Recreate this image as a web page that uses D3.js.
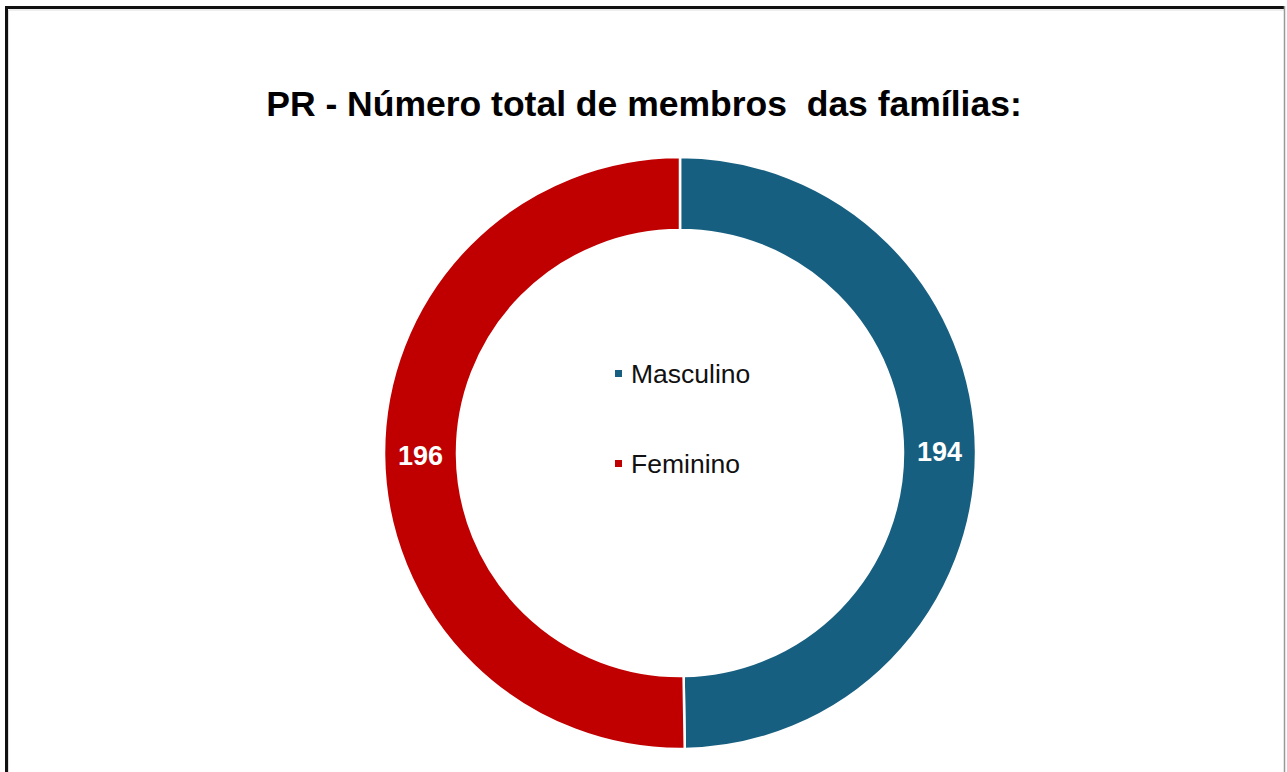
<!DOCTYPE html>
<html>
<head>
<meta charset="utf-8">
<script src="https://cdn.jsdelivr.net/npm/d3@7/dist/d3.min.js"></script>
<style>
  html, body { margin: 0; padding: 0; background: #fff; }
  svg { display: block; font-family: "Liberation Sans", Arial, sans-serif; }
</style>
</head>
<body>
<svg id="chart" width="1287" height="772"></svg>
<script>
// Family members by sex (PR)
const categories = ["Masculino", "Feminino"];
const values = [194, 196];
const colors = ["#175F80", "#C00000"];
const title = "PR - Número total de membros  das famílias:";

const W = 1287, H = 772;
const svg = d3.select("#chart");

// frame around the chart area
svg.append("rect").attr("x", 0).attr("y", 0).attr("width", W).attr("height", H).attr("fill", "#fff");
svg.append("line").attr("x1", 5).attr("x2", 1285).attr("y1", 7.5).attr("y2", 7.5)
  .attr("stroke", "#111").attr("stroke-width", 3);
svg.append("line").attr("x1", 6.5).attr("x2", 6.5).attr("y1", 6).attr("y2", H)
  .attr("stroke", "#111").attr("stroke-width", 3);
svg.append("line").attr("x1", 9).attr("x2", 1284).attr("y1", 10).attr("y2", 10)
  .attr("stroke", "#ddd").attr("stroke-width", 1);
svg.append("line").attr("x1", 8.5).attr("x2", 8.5).attr("y1", 10).attr("y2", H)
  .attr("stroke", "#ddd").attr("stroke-width", 1);
svg.append("line").attr("x1", 1284.5).attr("x2", 1284.5).attr("y1", 6).attr("y2", H)
  .attr("stroke", "#999").attr("stroke-width", 1.5);

// title
svg.append("text")
  .attr("x", 644).attr("y", 116)
  .attr("text-anchor", "middle")
  .style("white-space", "pre")
  .attr("font-size", 35.5).attr("font-weight", "bold").attr("fill", "#000")
  .text(title);

// donut
const cx = 680, cy = 453, rOuter = 296, rInner = 223;
const data = categories.map((c, i) => ({ name: c, value: values[i], color: colors[i] }));
const pie = d3.pie().sort(null).value(d => d.value).startAngle(0).endAngle(2 * Math.PI);
const arc = d3.arc().innerRadius(rInner).outerRadius(rOuter);
const labelArc = d3.arc().innerRadius((rInner + rOuter) / 2).outerRadius((rInner + rOuter) / 2);

const g = svg.append("g").attr("transform", `translate(${cx},${cy})`);
const arcs = pie(data);

g.selectAll("path.slice").data(arcs).join("path")
  .attr("class", "slice")
  .attr("d", arc)
  .attr("fill", d => d.data.color)
  .attr("stroke", "#fff").attr("stroke-width", 2.5);

g.selectAll("text.val").data(arcs).join("text")
  .attr("class", "val")
  .attr("transform", d => `translate(${labelArc.centroid(d)})`)
  .attr("text-anchor", "middle").attr("dy", "0.36em")
  .attr("font-size", 27).attr("font-weight", "bold").attr("fill", "#fff")
  .text(d => d.data.value);

// legend in the hole
const legend = svg.append("g").attr("transform", "translate(615,0)");
const rowY = d3.scalePoint().domain(categories).range([373.5, 463.5]);
const item = legend.selectAll("g").data(data).join("g")
  .attr("transform", d => `translate(0,${rowY(d.name)})`);
item.append("rect").attr("x", 0).attr("y", -3.5).attr("width", 7).attr("height", 7)
  .attr("fill", d => d.color);
item.append("text").attr("x", 16).attr("y", 0).attr("dy", "0.36em")
  .attr("font-size", 26.5).attr("fill", "#111")
  .text(d => d.name);
</script>
</body>
</html>
